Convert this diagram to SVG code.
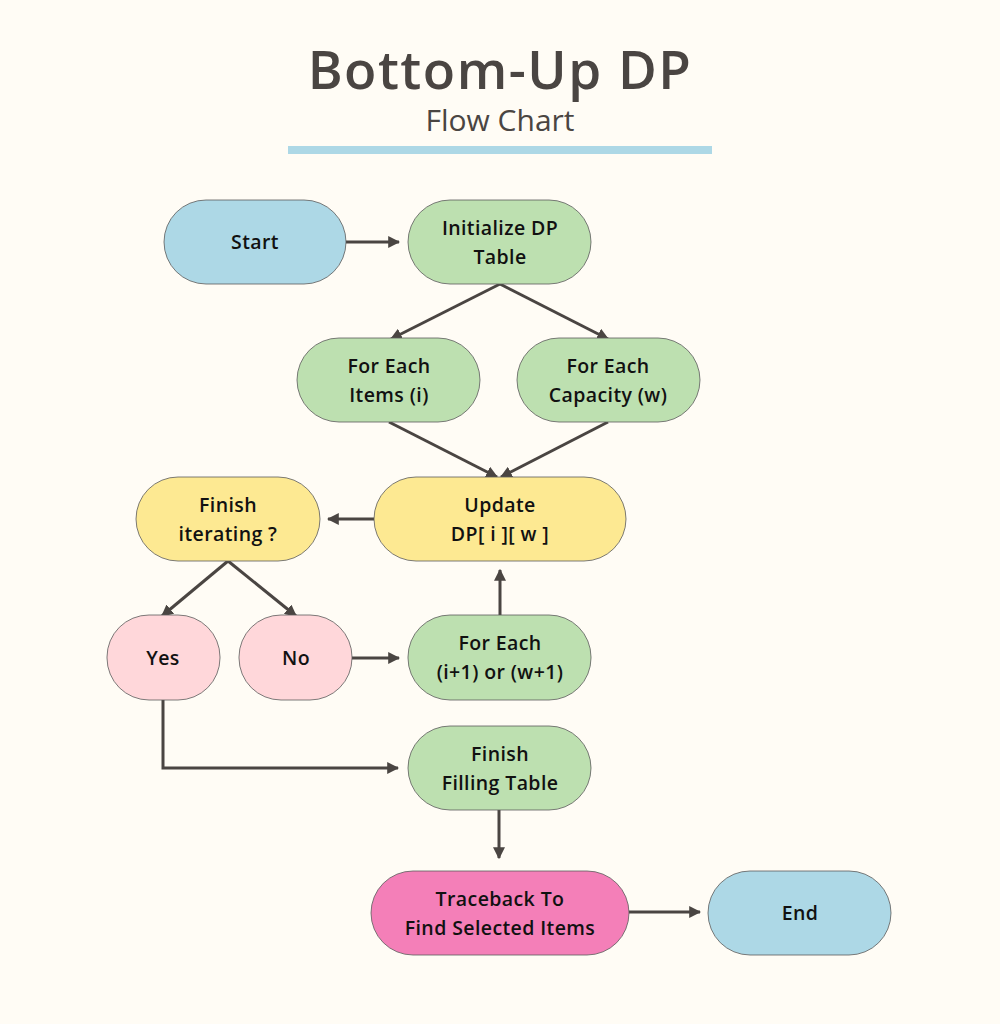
<svg xmlns="http://www.w3.org/2000/svg" width="1000" height="1024" viewBox="0 0 1000 1024">
<defs>
<marker id="ah" viewBox="0 0 10 10" refX="9" refY="5" markerWidth="4" markerHeight="4" orient="auto" markerUnits="strokeWidth">
<path d="M0,0 L10,5 L0,10 z" fill="#4a4542"/>
</marker>
<style>
.n{stroke:#5a5a5a;stroke-width:0.8}
.blue{fill:#add8e6}.green{fill:#bde0b0}.yellow{fill:#fde992}.pink{fill:#ffd7da}.mag{fill:#f47fb8}
.t{font-family:"Open Sans","Noto Sans",sans-serif;font-size:19.5px;font-weight:600;letter-spacing:0.4px;fill:#111;text-anchor:middle}
.c{fill:none;stroke:#4a4542;stroke-width:3;marker-end:url(#ah)}
</style>
</defs>
<rect width="1000" height="1024" fill="#fffcf5"/>
<g id="title">
<text x="500" y="89" font-family="Open Sans, sans-serif" font-weight="600" font-size="53" letter-spacing="1.5" fill="#4a4542" text-anchor="middle">Bottom-Up DP</text>
<text x="500" y="131" font-family="Open Sans, sans-serif" font-weight="400" font-size="30" fill="#4a4542" text-anchor="middle">Flow Chart</text>
<rect x="288" y="146" width="424" height="8" fill="#add8e6"/>
</g>
<g id="connectors">
<path class="c" d="M346,242 L399,242"/>
<path class="c" d="M500,284 L391,339"/>
<path class="c" d="M500,284 L608,339"/>
<path class="c" d="M389,422 L497,477"/>
<path class="c" d="M608,422 L501,477"/>
<path class="c" d="M374,519 L328,519"/>
<path class="c" d="M228,561 L162,616"/>
<path class="c" d="M228,561 L296,616"/>
<path class="c" d="M352,658 L399,658"/>
<path class="c" d="M500,615 L500,570"/>
<path class="c" d="M163,700 L163,768 L398,768"/>
<path class="c" d="M499,810 L499,858"/>
<path class="c" d="M629,912 L700,912"/>
</g>
<g id="start"><rect class="n blue" x="164" y="200" width="182" height="84" rx="42"/><text class="t" x="255" y="249">Start</text></g>
<g id="init"><rect class="n green" x="408" y="200" width="183" height="84" rx="42"/><text class="t" x="500" y="235">Initialize DP</text><text class="t" x="500" y="264">Table</text></g>
<g id="items"><rect class="n green" x="297" y="338" width="183" height="84" rx="42"/><text class="t" x="389" y="373">For Each</text><text class="t" x="389" y="402">Items (i)</text></g>
<g id="capacity"><rect class="n green" x="517" y="338" width="183" height="84" rx="42"/><text class="t" x="608" y="373">For Each</text><text class="t" x="608" y="402">Capacity (w)</text></g>
<g id="update"><rect class="n yellow" x="374" y="477" width="252" height="84" rx="42"/><text class="t" x="500" y="512">Update</text><text class="t" x="500" y="541" xml:space="preserve">DP[ i ][ w ]</text></g>
<g id="finishiter"><rect class="n yellow" x="136" y="477" width="184" height="84" rx="42"/><text class="t" x="228" y="512">Finish</text><text class="t" x="228" y="541">iterating ?</text></g>
<g id="yes"><rect class="n pink" x="107" y="615" width="113" height="85" rx="42"/><text class="t" x="163" y="665">Yes</text></g>
<g id="no"><rect class="n pink" x="239" y="615" width="113" height="85" rx="42"/><text class="t" x="296" y="665">No</text></g>
<g id="foreach1"><rect class="n green" x="408" y="615" width="183" height="85" rx="42"/><text class="t" x="500" y="650">For Each</text><text class="t" x="500" y="679">(i+1) or (w+1)</text></g>
<g id="finishfill"><rect class="n green" x="408" y="726" width="183" height="84" rx="42"/><text class="t" x="500" y="761">Finish</text><text class="t" x="500" y="790">Filling Table</text></g>
<g id="traceback"><rect class="n mag" x="371" y="871" width="258" height="84" rx="42"/><text class="t" x="500" y="906">Traceback To</text><text class="t" x="500" y="935">Find Selected Items</text></g>
<g id="end"><rect class="n blue" x="708" y="871" width="183" height="84" rx="42"/><text class="t" x="800" y="920">End</text></g>
</svg>
